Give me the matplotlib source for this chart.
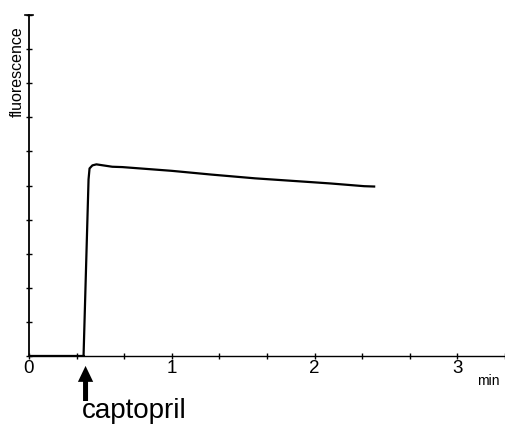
import numpy as np
import matplotlib
matplotlib.use("Agg")
import matplotlib.pyplot as plt
from matplotlib.patches import FancyArrowPatch

# fluorescence trace (time in min, signal in tick units)
t_min = [0.0, 0.382, 0.417, 0.424, 0.444, 0.472, 0.583, 0.653, 1.00, 1.278, 1.583, 1.972, 2.111, 2.347, 2.417]
signal = [0.0, 0.0, 5.18, 5.50, 5.59, 5.62, 5.55, 5.54, 5.43, 5.32, 5.21, 5.10, 5.06, 4.98, 4.97]

x_major = [0, 1, 2, 3]
x_labels = ["0", "1", "2", "3"]
x_minor = np.arange(0, 3.34, 1 / 3)
y_ticks = np.arange(0, 11, 1)
inject_t = 0.396

plt.rcParams['font.family'] = ['Liberation Sans', 'DejaVu Sans']

fig = plt.figure(figsize=(5.05, 4.28), dpi=100)
ax = fig.add_axes([29 / 505, (428 - 356) / 428, (505 - 29) / 505, (356 - 15) / 428])

ax.plot(t_min, signal, color="black", lw=1.6, solid_joinstyle="round")
# heavier stretch of baseline before the injection
ax.plot([0, 0.38], [0, 0], color="black", lw=2.2)

ax.set_xlim(0, 3.305)
ax.set_ylim(0, 10)

for s in ["top", "right"]:
    ax.spines[s].set_visible(False)
ax.spines["left"].set_linewidth(1.3)
ax.spines["bottom"].set_linewidth(1.0)

ax.set_xticks(x_minor, minor=True)
ax.set_xticks(x_major)
ax.set_xticklabels(x_labels, fontsize=13.5)
ax.tick_params(axis="x", which="both", direction="inout", length=4, width=1, pad=1)
ax.set_yticks(y_ticks)
ax.set_yticklabels([])
ax.tick_params(axis="y", direction="inout", length=5, width=1)
# cap on top of the y axis
ax.plot([-0.03, 0.03], [10, 10], color="black", lw=1.2, clip_on=False)

ax.text(3.14, -0.74, "min", fontsize=10, ha="left", va="center", clip_on=False)
ax.text(-0.08, 8.34, "fluorescence", fontsize=11.5, rotation=90, ha="center", va="center")

# injection marker
arrow = FancyArrowPatch((inject_t, -1.32), (inject_t, -0.29),
                        arrowstyle="simple,head_length=1.15,head_width=1.1,tail_width=0.36",
                        mutation_scale=10, shrinkA=0, shrinkB=0,
                        color="black", lw=0, clip_on=False)
ax.add_patch(arrow)
ax.text(0.37, -1.82, "captopril", fontsize=20, ha="left", va="baseline")

fig.savefig("out.png", dpi=100)
